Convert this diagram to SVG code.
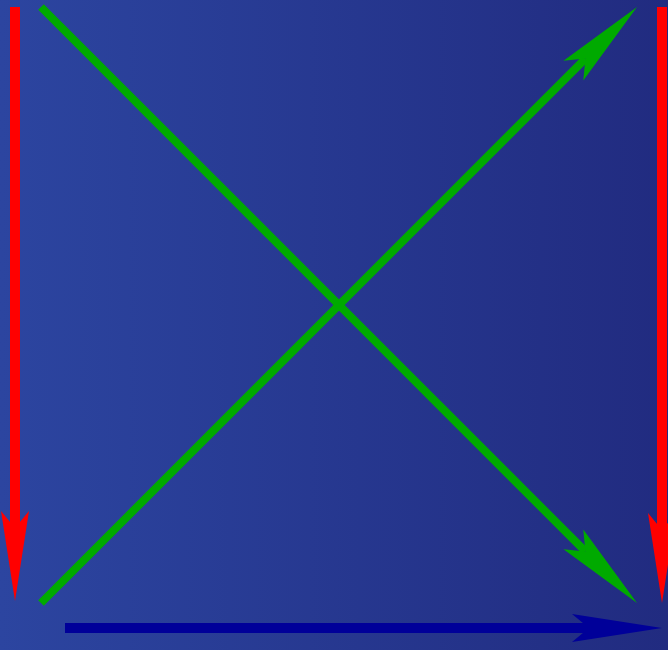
<svg xmlns="http://www.w3.org/2000/svg" width="668" height="650" viewBox="0 0 668 650">
  <defs>
    <linearGradient id="bg" x1="0" y1="0" x2="1" y2="0">
      <stop offset="0" stop-color="#2c45a0"/>
      <stop offset="1" stop-color="#212b80"/>
    </linearGradient>
    <marker id="hRed" markerUnits="userSpaceOnUse" orient="auto" refX="0" refY="0" viewBox="-20 -16 96 32" markerWidth="96" markerHeight="32" overflow="visible">
      <path d="M73,0 L-17,-14 L0,0 L-17,14 Z" fill="#ff0000"/>
    </marker>
    <marker id="hGreen" markerUnits="userSpaceOnUse" orient="auto" refX="0" refY="0" viewBox="-20 -16 96 32" markerWidth="96" markerHeight="32" overflow="visible">
      <path d="M73,0 L-17,-14 L0,0 L-17,14 Z" fill="#00aa00"/>
    </marker>
    <marker id="hBlue" markerUnits="userSpaceOnUse" orient="auto" refX="0" refY="0" viewBox="-20 -16 96 32" markerWidth="96" markerHeight="32" overflow="visible">
      <path d="M73,0 L-17,-14 L0,0 L-17,14 Z" fill="#000099"/>
    </marker>
  </defs>
  <style>
    .red { stroke: #ff0000; stroke-width: 10; fill: none; marker-end: url(#hRed); }
    .green { stroke: #00aa00; stroke-width: 8; fill: none; marker-end: url(#hGreen); }
    .blue { stroke: #000099; stroke-width: 10; fill: none; marker-end: url(#hBlue); }
  </style>
  <rect id="background" x="0" y="0" width="668" height="650" fill="url(#bg)"/>
  <g id="connectors">
    <line class="red" x1="15" y1="7" x2="15" y2="528"/>
    <line class="red" x1="662" y1="7" x2="662" y2="530"/>
    <line class="green" x1="41" y1="7" x2="585.4" y2="551.4"/>
    <line class="green" x1="41" y1="603" x2="585.4" y2="58.6"/>
    <line class="blue" x1="65" y1="628" x2="589" y2="628"/>
  </g>
</svg>
